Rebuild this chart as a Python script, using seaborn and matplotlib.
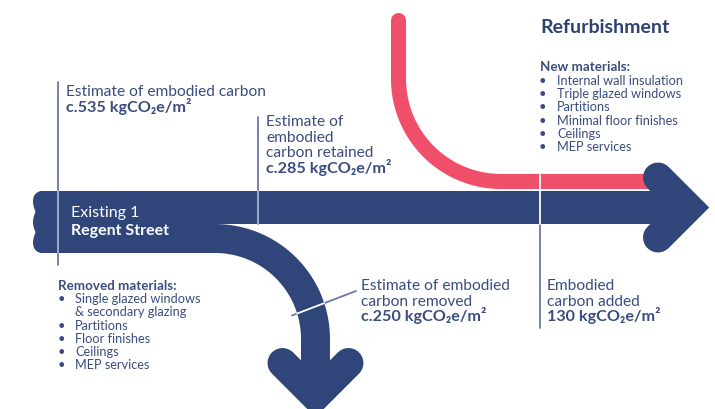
import numpy as np
import matplotlib.pyplot as plt
from matplotlib.patches import Polygon, Rectangle
import seaborn as sns

# Embodied carbon (kgCO2e/m2)
embodied_existing = 535
embodied_retained = 285
embodied_removed = 250
embodied_added = 130

new_materials = ['Internal wall insulation', 'Triple glazed windows', 'Partitions',
                 'Minimal floor finishes', 'Ceilings', 'MEP services']
removed_materials = [['Single glazed windows', '& secondary glazing'], ['Partitions'],
                     ['Floor finishes'], ['Ceilings'], ['MEP services']]

NAVY = '#30467a'
RED = '#ef4f69'
TEXT = '#3a4d7e'
LINE = '#6b78a6'
LIGHT = '#aab2d2'

sns.set_theme(style='white')
plt.rcParams['font.family'] = ['Lato', 'DejaVu Sans']

fig = plt.figure(figsize=(7.15, 4.09), dpi=100)
ax = fig.add_axes([0, 0, 1, 1])


def px(w):
    # pixel width -> points (dpi 100)
    return w * 72 / 100


def leader(xs, ys, color, lw=1.3, z=1):
    sns.lineplot(x=xs, y=ys, estimator=None, sort=False, color=color,
                 lw=lw, ax=ax, zorder=z)


def txt(x, y, s, size=11.2, bold=False, color=TEXT, ha='left'):
    ax.text(x, y, s, fontsize=size, fontweight='bold' if bold else 'normal',
            color=color, ha=ha, va='baseline', zorder=10)


# band thickness proportional to carbon
k = 62 / embodied_existing
w_tot = embodied_existing * k
w_ret = embodied_retained * k
w_rem = embodied_removed * k
w_add = embodied_added * k

band_top = 191
ret_bot = band_top + w_ret
tot_bot = band_top + w_tot
split_x = 215

# existing building band with torn left edge
t = np.linspace(0, 1, 120)
ys = band_top + t * w_tot
xs = 35.5 - 2.5 * np.abs(np.sin(3 * np.pi * t)) + 5 * (2 * t - 1) ** 16
left = np.column_stack([xs, ys])
pts = np.vstack([[[split_x + 1, band_top]], left, [[split_x + 1, tot_bot]]])
ax.add_patch(Polygon(pts, closed=True, color=NAVY, lw=0, zorder=2))

# retained carbon continues to the right
ax.add_patch(Rectangle((split_x, band_top), 690 - split_x, w_ret, color=NAVY, lw=0, zorder=2))
mid = band_top + w_ret / 2
ax.plot([658, 688, 658], [mid - 30, mid, mid + 30], color=NAVY, lw=px(30),
        solid_capstyle='round', solid_joinstyle='miter', zorder=4)

# removed carbon bends down
rem_c = (split_x, 339)
rem_cy = tot_bot - w_rem / 2
r = rem_c[1] - rem_cy
th = np.linspace(-np.pi / 2, 0, 80)
rx = np.r_[rem_c[0] + r * np.cos(th), rem_c[0] + r]
ry = np.r_[rem_c[1] + r * np.sin(th), 396]
ax.plot(rx, ry, color=NAVY, lw=px(w_rem), solid_capstyle='butt', zorder=2)
vx = rem_c[0] + r
ax.plot([vx - 33, vx, vx + 33], [363, 396, 363], color=NAVY, lw=px(30),
        solid_capstyle='round', solid_joinstyle='miter', zorder=3)

# added carbon (refurbishment) comes in from the top
red_bot = band_top - 2
red_cy = red_bot - w_add / 2
red_x = 391 + w_add / 2
rr = 501 - red_x
th = np.linspace(np.pi, np.pi / 2, 80)
gx = np.r_[red_x, 501 + rr * np.cos(th), 665]
gy = np.r_[20.5, red_cy - rr + rr * np.sin(th), red_cy]
ax.plot(gx, gy, color=RED, lw=px(w_add), solid_capstyle='round', zorder=2)

# marker lines
leader([58, 58], [82, 265], LINE)
leader([58, 58], [band_top, tot_bot], LIGHT, z=5)
leader([258, 258], [117, ret_bot], LINE)
leader([258, 258], [band_top, ret_bot], LIGHT, z=5)
leader([540, 540], [red_bot - w_add, 328], LINE)
leader([540, 540], [red_bot - w_add, ret_bot], 'white', z=5)
lx = np.linspace(292, 356, 200)
ly = 315.5 + (lx - 292) * (291 - 315.5) / (356 - 292)
leader(lx, ly, LINE)
rad = np.hypot(lx - rem_c[0], ly - rem_c[1])
inside = (rad > r - w_rem / 2) & (rad < r + w_rem / 2)
leader(lx[inside], ly[inside], 'white', z=5)

# labels
sub = 'kgCO\u2082e/m\u00b2'
VAL = 11.6
txt(66, 95.5, 'Estimate of embodied carbon')
txt(66, 112, f'c.{embodied_existing} {sub}', size=VAL, bold=True)

for i, s in enumerate(['Estimate of', 'embodied', 'carbon retained']):
    txt(266, 126.5 + 15.2 * i, s)
txt(266, 173, f'c.{embodied_retained} {sub}', size=VAL, bold=True)

txt(361, 290, 'Estimate of embodied')
txt(361, 306, 'carbon removed')
txt(361, 321.5, f'c.{embodied_removed} {sub}', size=VAL, bold=True)

txt(547, 290, 'Embodied')
txt(547, 306, 'carbon added')
txt(547, 321.5, f'{embodied_added} {sub}', size=VAL, bold=True)

txt(71, 217, 'Existing 1', size=11.5, color='white')
txt(71, 235.5, 'Regent Street', size=11.5, bold=True, color='white')

txt(540, 33, 'Refurbishment', size=14, bold=True, color='#2e4272')
txt(540, 71, 'New materials:', size=9.6, bold=True)
for i, s in enumerate(new_materials):
    y = 85.3 + 13.08 * i
    txt(542, y, '\u2022', size=9.2, ha='center')
    txt(557, y, s, size=9.2)

txt(58, 290, 'Removed materials:', size=9.6, bold=True)
y = 303.3
for item in removed_materials:
    txt(61, y, '\u2022', size=9.2, ha='center')
    for s in item:
        txt(75, y, s, size=9.2)
        y += 13.2

ax.set_xlim(0, 715)
ax.set_ylim(409, 0)
ax.axis('off')
fig.savefig('out.png', dpi=100)
